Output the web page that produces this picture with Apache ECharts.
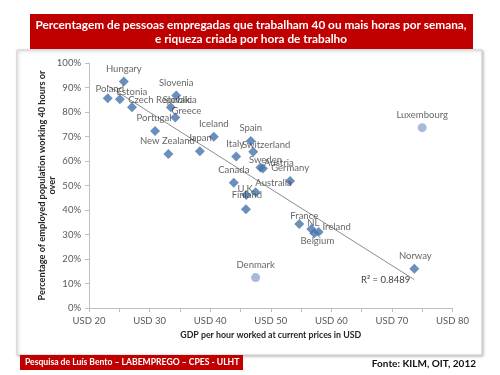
<!DOCTYPE html>
<html lang="pt">
  <head>
    <meta charset="UTF-8" />
    <script src="https://cdn.jsdelivr.net/npm/echarts@6/dist/echarts.min.js"></script>
    <title>Horas de trabalho e riqueza por hora</title>
    <style>
      html, body { margin: 0; padding: 0; background: #fff; }
      #app { width: 500px; height: 375px; }
    </style>
  </head>
  <body>
    <div id="app"></div>
    <script>
      // países (marcadores azuis, usados na recta de tendência)
      const countries = [
        "Poland", "Hungary", "Estonia", "Czech Republic", "Slovenia", "Slovakia",
        "Greece", "Portugal", "New Zealand", "Japan", "Iceland", "Italy", "Canada",
        "Spain", "Switzerland", "Sweden", "Austria", "Germany", "Australia", "U.K.",
        "Finland", "France", "NL", "Ireland", "Belgium", "Norway"
      ];
      // PIB por hora trabalhada (USD)
      const gdpPerHour = [
        23.1, 25.75, 25.1, 27.1, 34.4, 33.5,
        34.25, 30.9, 33.1, 38.3, 40.6, 44.3, 43.9,
        46.7, 47.1, 48.3, 48.7, 53.2, 47.5, 45.95,
        45.9, 54.7, 56.7, 57.9, 57.2, 73.7
      ];
      // % de empregados com 40 horas ou mais
      const pctLongHours = [
        85.6, 92.4, 85.2, 81.9, 86.7, 81.9,
        77.8, 72.2, 62.9, 64.0, 69.9, 61.8, 51.1,
        68.2, 63.8, 57.3, 56.9, 51.8, 47.2, 46.1,
        40.3, 34.3, 32.2, 31.0, 30.5, 16.0
      ];
      // casos à parte (círculos claros)
      const outlierNames = ["Luxembourg", "Denmark"];
      const outlierGdp = [75.0, 47.5];
      const outlierPct = [73.6, 12.4];

      const rSquaredText = "R\u00b2 = 0.8489";

      // deslocamento das etiquetas (centro do texto relativo ao marcador)
      const labelOffsets = {
        "Poland": [2, -9], "Hungary": [0, -13], "Estonia": [12, -7],
        "Czech Republic": [28, -7], "Slovenia": [0, -13], "Slovakia": [9, -7],
        "Greece": [11, -6], "Portugal": [-1, -13], "New Zealand": [-1, -13],
        "Japan": [0, -13], "Iceland": [0, -13], "Italy": [-1, -12.5],
        "Canada": [0, -13], "Spain": [0, -13], "Switzerland": [13, -7],
        "Sweden": [5, -8], "Austria": [16, -6], "Germany": [0, -13],
        "Australia": [18, -9], "U.K.": [0, -6], "Finland": [1, -14],
        "France": [5, -8], "NL": [2, -6], "Ireland": [18, -5],
        "Belgium": [3, 7.5], "Norway": [1, -13],
        "Luxembourg": [0, -13], "Denmark": [0, -13]
      };

      const FONT = "Lato";

      function makePoints(names, xs, ys) {
        return names.map((n, i) => ({
          name: n,
          value: [xs[i], ys[i]],
          label: { offset: labelOffsets[n] || [0, -13] }
        }));
      }

      // recta de tendência linear (mínimos quadrados)
      const n = gdpPerHour.length;
      const mx = gdpPerHour.reduce((a, b) => a + b, 0) / n;
      const my = pctLongHours.reduce((a, b) => a + b, 0) / n;
      let sxy = 0, sxx = 0;
      for (let i = 0; i < n; i++) {
        sxy += (gdpPerHour[i] - mx) * (pctLongHours[i] - my);
        sxx += (gdpPerHour[i] - mx) * (gdpPerHour[i] - mx);
      }
      const slope = sxy / sxx;
      const intercept = my - slope * mx;
      const xMin = Math.min(...gdpPerHour);
      const xMax = Math.max(...gdpPerHour);
      const trend = [
        [xMin, intercept + slope * xMin],
        [xMax, intercept + slope * xMax]
      ];

      const chart = echarts.init(document.getElementById("app"));

      const labelStyle = {
        show: true,
        position: "inside",
        formatter: "{b}",
        color: "#404040",
        fontFamily: FONT,
        fontSize: 9.5,
        align: "center",
        verticalAlign: "middle"
      };

      chart.setOption({
        animation: false,
        textStyle: { fontFamily: FONT },
        grid: { left: 89, right: 47.5, top: 63, bottom: 67 },
        xAxis: {
          type: "value",
          min: 20,
          max: 80,
          interval: 5,
          name: "GDP per hour worked at current prices in USD",
          nameLocation: "middle",
          nameGap: 22,
          nameTextStyle: { fontFamily: FONT, fontWeight: "bold", fontSize: 8.8, color: "#262626" },
          axisLine: { lineStyle: { color: "#bfbfbf" } },
          axisTick: { length: 4, lineStyle: { color: "#bfbfbf" } },
          axisLabel: {
            color: "#595959",
            fontSize: 9.5,
            margin: 8,
            formatter: (v) => (v % 10 === 0 ? "USD " + v : "")
          },
          splitLine: { show: false }
        },
        yAxis: {
          type: "value",
          min: 0,
          max: 100,
          interval: 10,
          name: "Percentage of employed population working 40 hours or\nover",
          nameLocation: "middle",
          nameRotate: 90,
          nameGap: 32,
          nameMoveOverlap: false,
          nameTextStyle: { fontFamily: FONT, fontWeight: "bold", fontSize: 9.2, color: "#262626", lineHeight: 10 },
          axisLine: { show: true, lineStyle: { color: "#bfbfbf" } },
          axisTick: { show: true, length: 4, lineStyle: { color: "#bfbfbf" } },
          axisLabel: { color: "#595959", fontSize: 9.5, margin: 8, formatter: "{value}%" },
          splitLine: { show: false }
        },
        series: [
          {
            name: "tendência",
            type: "line",
            data: trend,
            symbol: "none",
            silent: true,
            z: 1,
            lineStyle: { color: "#8c8c8c", width: 1 }
          },
          {
            name: "países",
            type: "scatter",
            symbol: "diamond",
            symbolSize: 10,
            z: 3,
            itemStyle: { color: "#4573ad" },
            label: labelStyle,
            data: makePoints(countries, gdpPerHour, pctLongHours)
          },
          {
            name: "outros",
            type: "scatter",
            symbol: "circle",
            symbolSize: 9,
            z: 3,
            itemStyle: { color: "#93a8d2" },
            label: labelStyle,
            data: makePoints(outlierNames, outlierGdp, outlierPct)
          }
        ],
        graphic: [
          {
            type: "rect",
            z: -10,
            shape: { x: 17, y: 50, width: 465, height: 305 },
            style: {
              fill: "#fff",
              stroke: "#cfcfcf",
              lineWidth: 1,
              shadowBlur: 3,
              shadowOffsetX: 1,
              shadowOffsetY: 1,
              shadowColor: "rgba(0,0,0,0.25)"
            }
          },
          {
            type: "rect",
            shape: { x: 30, y: 14, width: 443, height: 35 },
            style: { fill: "#c00000" }
          },
          {
            type: "text",
            x: 251,
            y: 32,
            style: {
              text: "Percentagem de pessoas empregadas que trabalham 40 ou mais horas por semana,\ne riqueza criada por hora de trabalho",
              fill: "#fff",
              font: "bold 11.8px " + FONT,
              align: "center",
              verticalAlign: "middle",
              lineHeight: 14
            }
          },
          {
            type: "rect",
            shape: { x: 20, y: 355, width: 223, height: 15 },
            style: { fill: "#c00000" }
          },
          {
            type: "text",
            x: 25,
            y: 362.5,
            style: {
              text: "Pesquisa de Luís Bento – LABEMPREGO – CPES - ULHT",
              fill: "#fff",
              font: "bold 8.6px " + FONT,
              verticalAlign: "middle"
            }
          },
          {
            type: "text",
            x: 476,
            y: 364,
            style: {
              text: "Fonte: KILM, OIT, 2012",
              fill: "#111",
              font: "bold 10px " + FONT,
              align: "right",
              verticalAlign: "middle"
            }
          },
          {
            type: "text",
            x: 361,
            y: 280,
            style: {
              text: rSquaredText,
              fill: "#404040",
              font: "9.5px " + FONT,
              verticalAlign: "middle"
            }
          }
        ]
      });
    </script>
  </body>
</html>
